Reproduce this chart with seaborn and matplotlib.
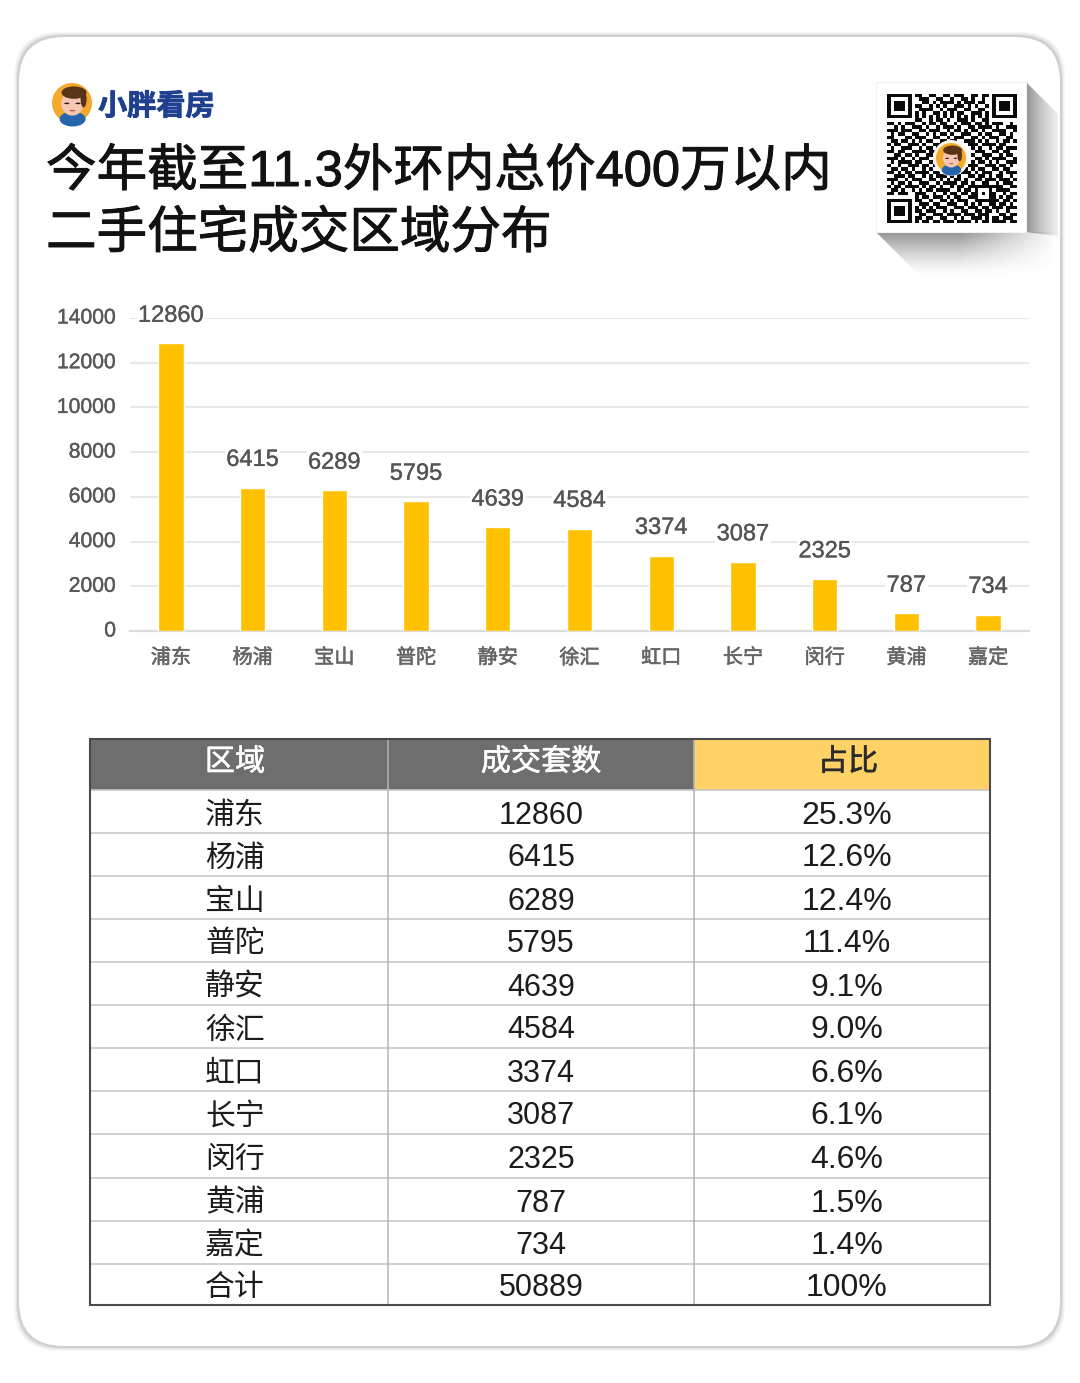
import numpy as np
import seaborn as sns
import matplotlib
matplotlib.use('Agg')
import matplotlib.pyplot as plt
import matplotlib.patheffects as pe
from matplotlib.transforms import ScaledTranslation
from matplotlib.patches import Circle, Ellipse, FancyBboxPatch, Polygon, Rectangle

districts = ['浦东', '杨浦', '宝山', '普陀', '静安', '徐汇', '虹口', '长宁', '闵行', '黄浦', '嘉定']
units = [12860, 6415, 6289, 5795, 4639, 4584, 3374, 3087, 2325, 787, 734]
shares = ['25.3%', '12.6%', '12.4%', '11.4%', '9.1%', '9.0%', '6.6%', '6.1%', '4.6%', '1.5%', '1.4%']
total_label = '合计'
total_units = '50889'
total_share = '100%'
table_headers = ['区域', '成交套数', '占比']
y_ticks = [0, 2000, 4000, 6000, 8000, 10000, 12000, 14000]
title_lines = ['今年截至11.3外环内总价400万以内', '二手住宅成交区域分布']
brand = '小胖看房'

# hand, centre of the code is covered by the avatar
qr_rows = [
    '1111111011001100110111001101101111111',
    '1000001001110011001001101001001000001',
    '1011101000110101111010111011001011101',
    '1011101011001010100111010100101011101',
    '1011101001111001011100110011001011101',
    '1000001010100110101011001110101000001',
    '1111111010101010101010101010101111111',
    '0000000011001011010011101001100000000',
    '1101011100101101100101110110101110010',
    '0010100111010010111010011011110100111',
    '1110111001101110010110101101001111001',
    '0101100110010101101001110010110011010',
    '1100011011100110010111001101011100110',
    '0110110101011001101100111010100101101',
    '1011001110100111000000011101111011000',
    '0100111001011010000000001010010110111',
    '1101100111101100000000000111001101100',
    '0011011010011010000000001001110010110',
    '1110100101110100000000000110101111001',
    '0101111011001010000000001011010100111',
    '1001001110110110000000011100111011010',
    '0110110100101001100000101011001101100',
    '1101011011110110011101110101110010111',
    '0011101100101011101010011011010110010',
    '1110010111001101010110100110111011101',
    '0101101001110010111101101001100101110',
    '1011011110101101001011011111111110011',
    '0110100101011011110010110100010111100',
    '1101110011100100101101101101011001011',
    '0000000010110111010110011100011010110',
    '1111111011001001101011100111111101101',
    '1000001001110110011100101010011011010',
    '1011101010101011100111011101101110111',
    '1011101011011100101001100110110100100',
    '1011101001100111011110111011100011011',
    '1000001011011001100101001110101101110',
    '1111111010110110111011110101101111011',
]

W, H, DPI = 1080, 1383, 100
LATIN_CJK = ['Liberation Sans', 'Noto Sans CJK SC', 'DejaVu Sans']


def px_axes(fig, left, top, right, bottom):
    return fig.add_axes([left / W, 1 - bottom / H, (right - left) / W, (bottom - top) / H])


def thicker(width, colour):
    return [pe.withStroke(linewidth=width, foreground=colour)]


def gradient_shadow(ax, points, start, end, strength, side_fade=None):
    # grey fade along the start -> end direction, clipped to a polygon
    yy, xx = np.mgrid[0:H, 0:W]
    d = np.array(end, dtype=float) - np.array(start, dtype=float)
    t = ((xx - start[0]) * d[0] + (yy - start[1]) * d[1]) / (d @ d)
    alpha = strength * (1 - np.clip(t, 0, 1)) ** 1.4
    if side_fade is not None:
        alpha = alpha * np.clip((side_fade[1] - xx) / (side_fade[1] - side_fade[0]), 0, 1)
    rgba = np.zeros((H, W, 4))
    rgba[..., :3] = 0.3
    rgba[..., 3] = alpha
    im = ax.imshow(rgba, extent=(0, W, H, 0), zorder=2, aspect='auto')
    poly = Polygon(points, transform=ax.transData, fc='none', ec='none')
    ax.add_patch(poly)
    im.set_clip_path(poly)


def draw_avatar(ax, cx, cy, r, ring=False):
    if ring:
        ax.add_patch(Circle((cx, cy), r * 1.2, fc='#fbf7ee', ec='none', zorder=6))
    ax.add_patch(Circle((cx, cy), r, fc='#f2a92c', ec='none', zorder=6))
    ax.add_patch(Ellipse((cx + 0.03 * r, cy + 0.8 * r), 1.3 * r, 0.75 * r, fc='#2565ab', ec='none', zorder=7))
    ax.add_patch(Ellipse((cx + 0.02 * r, cy + 0.02 * r), 1.12 * r, 1.22 * r, fc='#f7c6b2', ec='none', zorder=8))
    ax.add_patch(Ellipse((cx + 0.1 * r, cy - 0.52 * r), 1.25 * r, 0.62 * r, fc='#5a3418', ec='none', zorder=9))
    ax.add_patch(Ellipse((cx + 0.58 * r, cy - 0.18 * r), 0.3 * r, 0.8 * r, fc='#5a3418', ec='none', zorder=9))
    for dx in (-0.26, 0.3):
        ax.add_patch(Ellipse((cx + dx * r, cy + 0.02 * r), 0.26 * r, 0.08 * r, fc='#2a2020', ec='none', zorder=10))
    ax.add_patch(Ellipse((cx + 0.02 * r, cy + 0.38 * r), 0.3 * r, 0.07 * r, fc='#b5504a', ec='none', zorder=10))


sns.set_theme(style='white')
plt.rcParams['font.family'] = LATIN_CJK

fig = plt.figure(figsize=(W / DPI, H / DPI), dpi=DPI, facecolor='white')

# page layer in pixel coordinates
page = fig.add_axes([0, 0, 1, 1], zorder=0)
page.set_xlim(0, W)
page.set_ylim(H, 0)
page.axis('off')

# card with a soft edge
for grow, shade in [(4, '#f6f6f6'), (3, '#efefef'), (2, '#e2e2e2'), (1, '#d0d0d0')]:
    page.add_patch(FancyBboxPatch((18 - grow + 45, 36 - grow + 45), 1043 + 2 * grow - 90, 1311 + 2 * grow - 90,
                                  boxstyle='round,pad=45,rounding_size=45', fc=shade, ec='none', zorder=1))
page.add_patch(FancyBboxPatch((19 + 45, 37 + 45), 1041 - 90, 1309 - 90,
                              boxstyle='round,pad=45,rounding_size=45', fc='white', ec='none', zorder=1.5))

# brand and title
draw_avatar(page, 72, 103, 20)
page.text(98, 106, brand, fontsize=21, fontweight='bold', color='#1f3f8f', va='center', ha='left',
          family='Noto Sans CJK SC', zorder=5, path_effects=thicker(0.6, '#1f3f8f'))
for line, y in zip(title_lines, [172.5, 234.5]):
    page.text(46, y, line, fontsize=36.4, color='#111111', va='center', ha='left', zorder=5,
              path_effects=thicker(0.7, '#111111'))

# folded paper shadow and QR block
gradient_shadow(page, [(1026, 82), (1058, 114), (1058, 236), (1026, 232)], (1026, 150), (1068, 150), 0.6)
gradient_shadow(page, [(876, 232), (1052, 232), (1052, 276), (920, 276)], (960, 232), (960, 276), 0.6,
                side_fade=(960, 1056))
page.add_patch(Rectangle((876, 82), 150, 150, fc='white', ec='#f2f2f2', lw=0.8, zorder=3))

qr_ax = px_axes(fig, 887, 94, 1017, 223)
qr_ax.set_zorder(1)
qr_matrix = np.array([[int(c) for c in row] for row in qr_rows])
sns.heatmap(qr_matrix, cmap=['white', '#0a0a0a'], cbar=False, square=False, xticklabels=False,
            yticklabels=False, ax=qr_ax)

top_layer = fig.add_axes([0, 0, 1, 1], zorder=3)
top_layer.set_xlim(0, W)
top_layer.set_ylim(H, 0)
top_layer.axis('off')
top_layer.patch.set_alpha(0)
draw_avatar(top_layer, 951, 158, 15, ring=True)

# bar chart
ax = px_axes(fig, 130, 318, 1029, 631)
ax.set_zorder(1)
ax.patch.set_alpha(0)
sns.barplot(x=districts, y=units, color='#FFC000', saturation=1, width=0.31, ax=ax, zorder=3)
ax.set_xlim(-0.5, 10.5)
ax.set_ylim(0, 14000)
ax.set_yticks(y_ticks)
ax.grid(axis='y', color='#e8e8e8', lw=1.5, zorder=0)
ax.set_axisbelow(True)
sns.despine(ax=ax, left=True, top=True, right=True)
ax.spines['bottom'].set_color('#dcdcdc')
ax.spines['bottom'].set_linewidth(1.6)
ax.tick_params(axis='y', length=0, pad=10, labelsize=15.2, labelcolor='#595959')
ax.tick_params(axis='x', length=0, pad=12.5, labelsize=14.5, labelcolor='#666666')
nudge = ScaledTranslation(0, 2 / DPI, fig.dpi_scale_trans)
for tick_label in ax.get_yticklabels():
    tick_label.set_transform(tick_label.get_transform() + nudge)
    tick_label.set_path_effects(thicker(0.3, '#595959'))
for tick_label in ax.get_xticklabels():
    tick_label.set_path_effects(thicker(0.4, '#666666'))
labels = ax.bar_label(ax.containers[0], padding=12, fontsize=17, color='#555555')
for lab in labels:
    lab.set_clip_on(False)
    lab.set_path_effects(thicker(0.25, '#555555'))
    lab.set_bbox(dict(fc='white', ec='none', pad=1.0))

# table
col_edges = [90, 388, 694, 990]
row_edges = [739, 790, 833, 876, 919, 962, 1005, 1048, 1091, 1134, 1178, 1221, 1264, 1305]
head_x = [235, 541, 848]
body_x = [235, 541, 847]

page.add_patch(Rectangle((90, 739), 604, 51, fc='#6e6e6e', ec='none', zorder=3))
page.add_patch(Rectangle((694, 739), 296, 51, fc='#FFD266', ec='none', zorder=3))
for y in row_edges[1:-1]:
    page.plot([90, 990], [y, y], color='#c8c8c8', lw=1.2, zorder=4)
for x in col_edges[1:-1]:
    page.plot([x, x], [739, 1305], color='#b4b4b4', lw=1.1, zorder=4)
page.add_patch(Rectangle((90, 739), 900, 566, fc='none', ec='#4a4a4a', lw=1.5, zorder=5))

for x, head, colour in zip(head_x, table_headers, ['white', 'white', '#2b2b2b']):
    page.text(x, 762.5, head, fontsize=21.7, color=colour, ha='center', va='center', zorder=5,
              path_effects=thicker(0.4, colour))

col_one = districts + [total_label]
col_two = [str(v) for v in units] + [total_units]
col_three = shares + [total_share]
for i, (a, b, c) in enumerate(zip(col_one, col_two, col_three)):
    y = (row_edges[i + 1] + row_edges[i + 2]) / 2 + 4
    page.text(body_x[0], y, a, fontsize=21.5, color='#1c1c1c', ha='center', va='center', zorder=5)
    page.text(body_x[1], y, b, fontsize=22, color='#1c1c1c', ha='center', va='center', zorder=5)
    page.text(body_x[2], y, c, fontsize=23, color='#1c1c1c', ha='center', va='center', zorder=5)

fig.savefig('out.png', dpi=DPI, facecolor='white')
